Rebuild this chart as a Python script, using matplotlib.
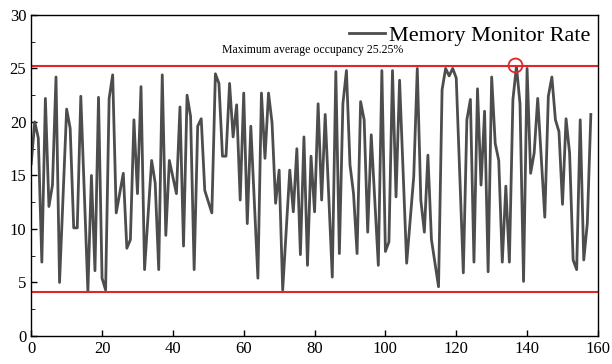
import matplotlib
matplotlib.use('Agg')
import matplotlib.pyplot as plt
from matplotlib.ticker import MultipleLocator

plt.rcParams['font.family'] = ['Liberation Serif', 'DejaVu Serif']

sample = [0, 1, 2, 3, 4, 5, 6, 7, 8, 10, 11, 12, 13, 14, 16, 17, 18, 19, 20,
          21, 22, 23, 24, 26, 27, 28, 29, 30, 31, 32, 34, 35, 36, 37, 38, 39,
          41, 42, 43, 44, 45, 46, 47, 48, 49, 51, 52, 53, 54, 55, 56, 57, 58,
          59, 60, 61, 62, 64, 65, 66, 67, 68, 69, 70, 71, 73, 74, 75, 76, 77,
          78, 79, 80, 81, 82, 83, 85, 86, 87, 88, 89, 90, 91, 92, 93, 94, 95,
          96, 98, 99, 100, 101, 102, 103, 104, 106, 108, 109, 110, 111, 112,
          113, 115, 116, 117, 118, 119, 120, 122, 123, 124, 125, 126, 127, 128,
          129, 130, 131, 132, 133, 134, 135, 136, 137, 138, 139, 140, 141, 142,
          143, 145, 146, 147, 148, 149, 150, 151, 152, 153, 154, 155, 156, 157,
          158]
rate = [16.1, 20.0, 18.5, 6.9, 22.2, 12.1, 14.1, 24.2, 5.0, 21.2, 19.4, 10.1,
        10.1, 22.4, 4.2, 15.0, 6.1, 22.3, 5.4, 4.3, 22.2, 24.4, 11.5, 15.2,
        8.2, 9.0, 20.2, 13.3, 23.3, 6.2, 16.4, 14.3, 6.2, 24.4, 9.4, 16.4,
        13.3, 21.4, 8.4, 22.5, 20.5, 6.2, 19.6, 20.3, 13.6, 11.5, 24.5, 23.6,
        16.8, 16.8, 23.6, 18.6, 21.6, 12.7, 22.7, 10.5, 19.6, 5.4, 22.7, 16.6,
        22.7, 19.9, 12.4, 15.5, 4.3, 15.5, 11.6, 17.5, 7.6, 18.6, 6.6, 16.8,
        11.6, 21.7, 12.7, 20.7, 5.5, 24.7, 7.7, 21.7, 24.8, 16.0, 13.3, 7.7,
        21.9, 20.2, 9.7, 18.8, 6.6, 24.8, 7.9, 8.8, 24.8, 13.0, 23.9, 6.8,
        14.9, 25.0, 12.7, 9.7, 16.9, 9.0, 4.6, 23.0, 25.0, 24.3, 25.0, 24.1,
        5.9, 20.2, 22.1, 6.9, 23.1, 14.1, 21.0, 6.0, 24.2, 18.0, 16.4, 6.9,
        14.0, 6.9, 22.1, 25.2, 21.7, 5.1, 25.0, 15.2, 17.1, 22.2, 11.1, 22.4,
        24.2, 20.2, 19.1, 12.3, 20.3, 17.1, 7.1, 6.2, 20.2, 7.1, 10.5, 20.7]

upper_limit = 25.25
lower_limit = 4.1
peak = (136.7, 25.35)

fig = plt.figure(figsize=(6.12, 3.64), dpi=100)
ax = fig.add_axes([0.051, 0.077, 0.926, 0.882])

ax.plot(sample, rate, color='#4d4d4d', lw=2, label='Memory Monitor Rate')
ax.axhline(upper_limit, color='#e0262b', lw=1.5)
ax.axhline(lower_limit, color='#e0262b', lw=1.5)
ax.plot(*peak, 'o', ms=10, mfc='none', mec='#e0262b', mew=1.3)
ax.text(54, 26.4, 'Maximum average occupancy 25.25%', fontsize=8.5)

ax.set_xlim(0, 160)
ax.set_ylim(0, 30)
ax.xaxis.set_major_locator(MultipleLocator(20))
ax.yaxis.set_major_locator(MultipleLocator(5))
ax.yaxis.set_minor_locator(MultipleLocator(2.5))
ax.tick_params(direction='in', labelsize=12, length=4, width=1)
ax.tick_params(axis='y', which='minor', direction='in', length=3)
for s in ax.spines.values():
    s.set_linewidth(1)

ax.legend(loc='upper right', bbox_to_anchor=(1.003, 0.995), frameon=False,
          fontsize=16, handlelength=1.6, borderaxespad=0.0, handletextpad=0.2)

fig.savefig('out.png', dpi=100)
